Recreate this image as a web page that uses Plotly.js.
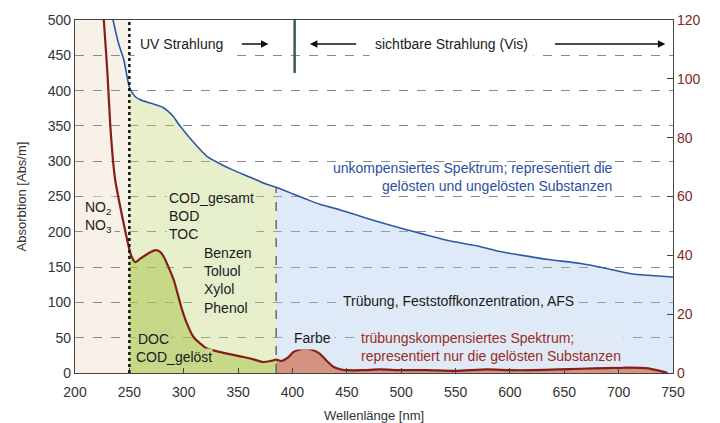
<!DOCTYPE html>
<html><head><meta charset="utf-8">
<script src="https://cdn.plot.ly/plotly-3.0.1.min.js"></script>
<style>html,body{margin:0;padding:0;background:#fff}#chart{width:720px;height:423px}</style>
</head><body><div id="chart"></div>
<script>
// ---- data ----
const blueWavelength = [233, 235, 240, 245, 250, 255, 260, 270, 281, 290, 297, 310, 322, 335, 346, 360, 375, 385, 400, 413, 425, 444, 475, 505, 542, 570, 591, 610, 634, 665, 689, 710, 730, 750];
const blueAbsorption = [515, 500, 467, 443, 405, 392, 387, 382, 376, 364, 349, 325, 306, 295, 287, 278, 268, 263, 254, 246, 239, 231, 216, 203, 188, 180, 172, 167, 161, 155, 148, 141, 138, 136];

const redWavelength = [224, 226.5, 230, 232.5, 235, 237, 241, 245, 250, 252, 255.5, 260, 263, 268, 274, 278, 281.5, 286, 291, 298, 303, 309, 315, 321, 330, 340, 355, 365, 373, 380, 385, 390, 396, 401, 406, 412, 418, 425, 431, 438, 445, 450, 465, 480, 500, 523, 550, 579, 600, 620, 645, 665, 690, 710, 725, 738, 745];
const redAbsorption = [540, 500, 420, 349, 300, 273, 240, 210, 175, 165, 157, 162, 165, 170, 174, 172, 165, 150, 131, 92, 70, 51, 42, 35, 31, 27.5, 22.7, 19, 15.6, 17, 19, 17, 22, 30, 33, 34.6, 33, 27.5, 18, 8.5, 5, 4, 4, 5, 4, 4, 3, 5, 4, 4, 5, 6, 7, 7.6, 7, 3, 0];

const regionEdges = [200, 250, 385, 750];   // UV-C edge, UV range, visible range
const visBoundary = 402;                     // UV / Vis divider
const xTicks = [200, 250, 300, 350, 400, 450, 500, 550, 600, 650, 700, 750];
const leftTicks = [0, 50, 100, 150, 200, 250, 300, 350, 400, 450, 500];
const rightTicks = [0, 20, 40, 60, 80, 100, 120];

// ---- helpers ----
function segment(xs, ys, lo, hi) {
  const x = [], y = [];
  xs.forEach((v, i) => { if (v >= lo && v <= hi) { x.push(v); y.push(ys[i]); } });
  return {x, y};
}
const font = 'Liberation Sans, Arial, sans-serif';
const blueUV = segment(blueWavelength, blueAbsorption, regionEdges[1], regionEdges[2]);
const blueVis = segment(blueWavelength, blueAbsorption, regionEdges[2], regionEdges[3]);
const redUV = segment(redWavelength, redAbsorption, regionEdges[1], regionEdges[2]);
const redVis = segment(redWavelength, redAbsorption, regionEdges[2], regionEdges[3]);
const blueAtEdge = blueAbsorption[blueWavelength.indexOf(regionEdges[2])];

const sp = 0.6;
const traces = [
  {x: blueUV.x, y: blueUV.y, mode: 'lines', line: {width: 0, shape: 'spline', smoothing: sp}, fill: 'tozeroy', fillcolor: 'rgba(185,210,105,0.35)', hoverinfo: 'skip'},
  {x: blueVis.x, y: blueVis.y, mode: 'lines', line: {width: 0, shape: 'spline', smoothing: sp}, fill: 'tozeroy', fillcolor: 'rgba(161,195,232,0.35)', hoverinfo: 'skip'},
  {x: redUV.x, y: redUV.y, mode: 'lines', line: {width: 0, shape: 'spline', smoothing: sp}, fill: 'tozeroy', fillcolor: 'rgba(165,195,65,0.5)', hoverinfo: 'skip'},
  {x: redVis.x, y: redVis.y, mode: 'lines', line: {width: 0, shape: 'spline', smoothing: sp}, fill: 'tozeroy', fillcolor: 'rgba(208,110,75,0.7)', hoverinfo: 'skip'},
  {x: [regionEdges[2], regionEdges[2]], y: [0, blueAtEdge], mode: 'lines', line: {color: '#555', width: 1.3, dash: 'dash'}, hoverinfo: 'skip'},
  {x: blueWavelength, y: blueAbsorption, mode: 'lines', line: {color: '#2d58a8', width: 1.6, shape: 'spline', smoothing: sp}, hoverinfo: 'skip'},
  {x: redWavelength, y: redAbsorption, mode: 'lines', line: {color: '#861d18', width: 2.2, shape: 'spline', smoothing: sp}, hoverinfo: 'skip'},
  {x: [], y: [], yaxis: 'y2', mode: 'lines', hoverinfo: 'skip'}
];

const txt = '#1a1a1a';
function note(text, x, y, opts) {
  return Object.assign({text, x, y, xref: 'x', yref: 'y', showarrow: false,
    font: {family: font, size: 14, color: txt}, borderpad: 2}, opts || {});
}
function arrow(x, y, ax) {
  return {x, y, ax, ay: y, xref: 'x', yref: 'y', axref: 'x', ayref: 'y', text: '', showarrow: true,
    arrowhead: 2, arrowsize: 1, arrowwidth: 1.5, arrowcolor: '#111'};
}
const cWhite = '#ffffff', cBeige = '#f7f1e7', cLGreen = '#e6efcb', cDGreen = '#c5d889', cLBlue = '#dfeaf6';

const annotations = [
  note('UV Strahlung', 298, 466, {bgcolor: cWhite, borderpad: 5}),
  arrow(378, 466, 352),
  note('sichtbare Strahlung (Vis)', 546, 466, {bgcolor: cWhite, borderpad: 5}),
  arrow(416, 466, 460),
  arrow(743, 466, 640),
  note('unkompensiertes Spektrum; representiert die<br>gelösten und ungelösten Substanzen', 698, 277,
       {xanchor: 'right', align: 'right', font: {family: font, size: 14, color: '#2c4f9e'}}),
  note('NO<sub>2</sub><br>NO<sub>3</sub>', 206.5, 221, {xanchor: 'left', align: 'left', bgcolor: cBeige}),
  note('COD_gesamt<br>BOD<br>TOC', 284, 223, {xanchor: 'left', align: 'left', bgcolor: cLGreen}),
  note('Benzen<br>Toluol<br>Xylol<br>Phenol', 316, 131, {xanchor: 'left', align: 'left', bgcolor: cLGreen}),
  note('DOC', 255.6, 48, {xanchor: 'left', align: 'left', bgcolor: cDGreen}),
  note('COD_gelöst', 255.6, 22, {xanchor: 'left', align: 'left', bgcolor: cDGreen, borderpad: 0}),
  note('Trübung, Feststoffkonzentration, AFS', 553, 101.5, {bgcolor: cLBlue, borderpad: 3}),
  note('Farbe', 418, 49, {bgcolor: cLBlue, borderpad: 3}),
  note('trübungskompensiertes Spektrum;<br>representiert nur die gelösten Substanzen', 460.5, 37,
       {xanchor: 'left', align: 'left', bgcolor: cLBlue, font: {family: font, size: 14, color: '#9a2c24'}})
];

const shapes = [
  {type: 'rect', xref: 'x', yref: 'paper', x0: regionEdges[0], x1: regionEdges[1], y0: 0, y1: 1,
   fillcolor: cBeige, line: {width: 0}, layer: 'below'},
  {type: 'line', xref: 'x', yref: 'paper', x0: regionEdges[1], x1: regionEdges[1], y0: 0, y1: 1,
   line: {color: '#111', width: 2.5, dash: 'dot'}, layer: 'above'},
  {type: 'line', xref: 'x', yref: 'y', x0: visBoundary, x1: visBoundary, y0: 425, y1: 500,
   line: {color: '#3b5a50', width: 2.5}, layer: 'above'}
];

const layout = {
  width: 720, height: 423,
  margin: {l: 75, r: 47, t: 20, b: 50},
  paper_bgcolor: '#fff', plot_bgcolor: '#fff',
  showlegend: false,
  font: {family: font, size: 14, color: '#333'},
  xaxis: {range: [200, 750], tickvals: xTicks, ticks: 'inside', ticklen: 5, tickcolor: '#444',
          showline: true, linecolor: '#444', linewidth: 1.2, mirror: true, showgrid: false, zeroline: false,
          ticklabelstandoff: 6, tickfont: {family: font, size: 14, color: '#333'},
          title: {text: 'Wellenlänge [nm]', font: {family: font, size: 13, color: '#333'}, standoff: 13}},
  yaxis: {range: [0, 500], tickvals: leftTicks, ticks: '', showline: true, linecolor: '#444', linewidth: 1.2,
          showgrid: true, gridcolor: '#8a8a8a', griddash: 'dash', gridwidth: 1, zeroline: false,
          tickfont: {family: font, size: 14, color: '#333'},
          title: {text: 'Absorbtion [Abs/m]', font: {family: font, size: 13, color: '#333'}, standoff: 18}},
  yaxis2: {overlaying: 'y', side: 'right', range: [0, 120], tickvals: rightTicks, ticks: 'inside', ticklen: 6,
           tickcolor: '#444', showline: true, linecolor: '#444', linewidth: 1.2, showgrid: false, zeroline: false,
           tickfont: {family: font, size: 14, color: '#7d2a22'}},
  annotations, shapes
};

Plotly.newPlot('chart', traces, layout, {staticPlot: true, displayModeBar: false});
</script></body></html>
